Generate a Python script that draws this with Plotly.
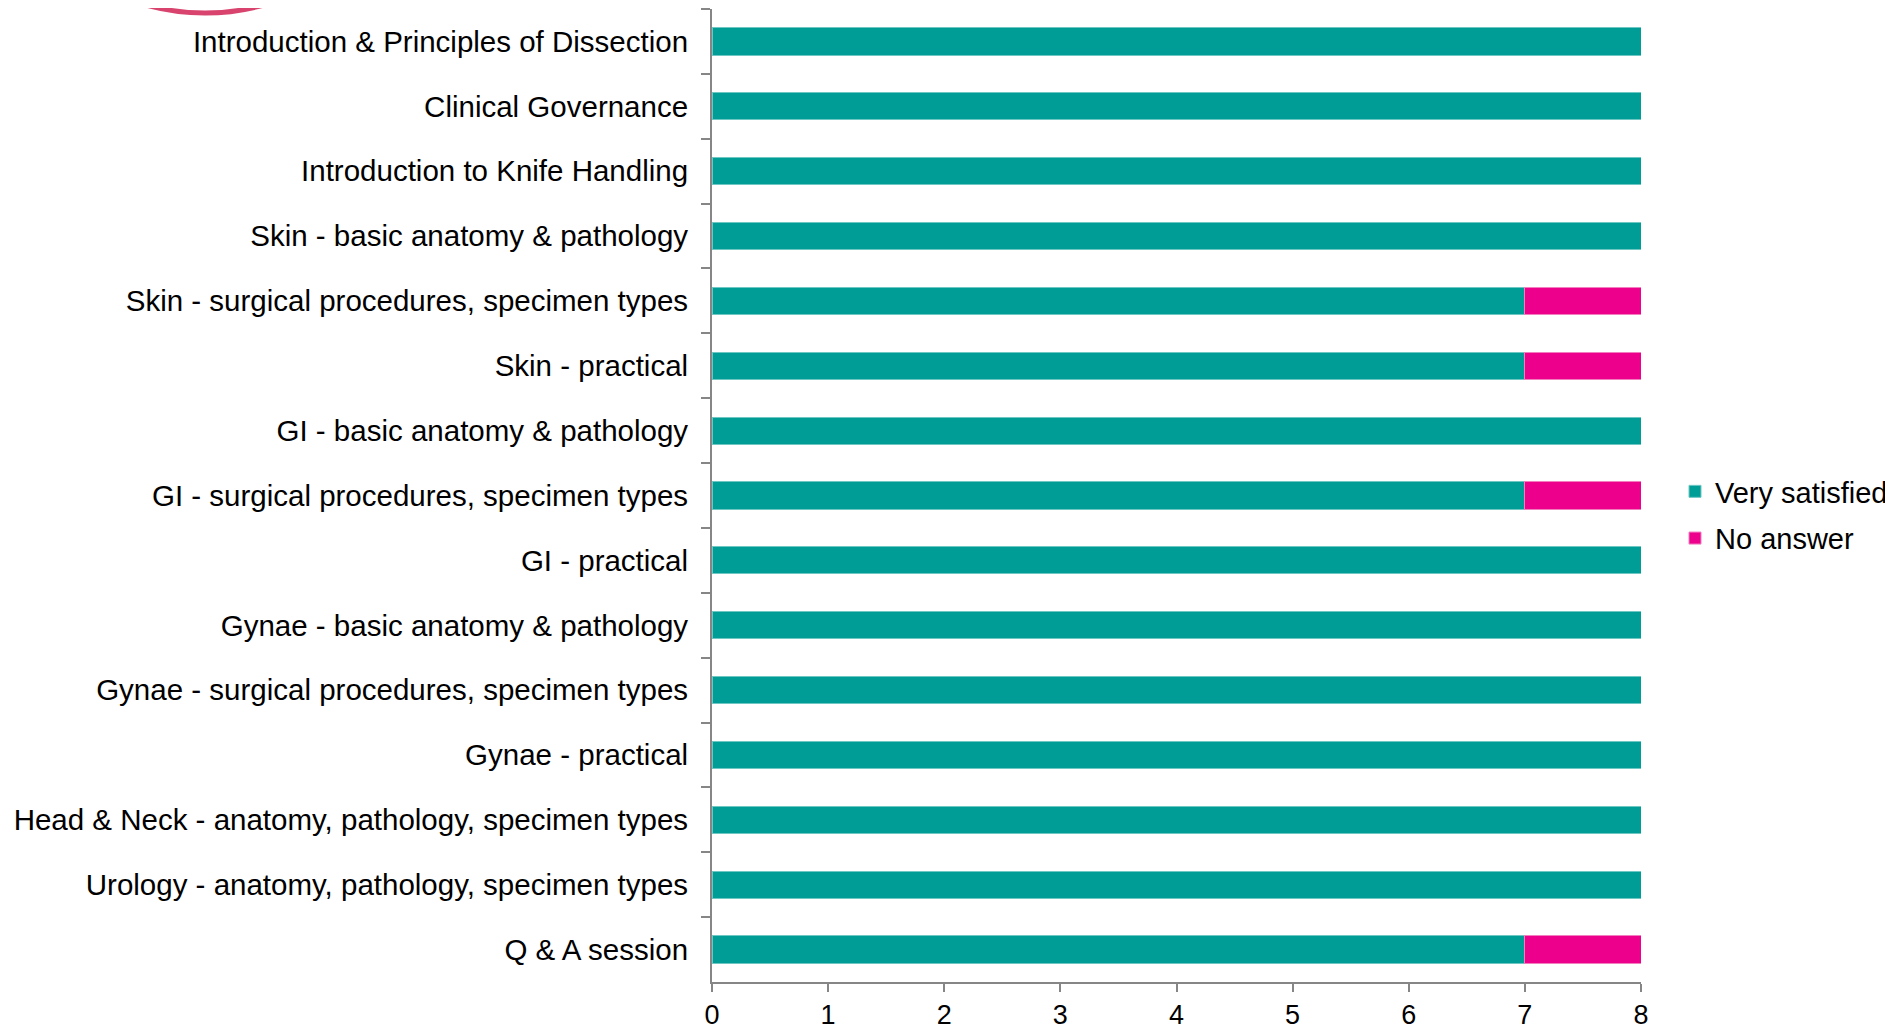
import plotly.graph_objects as go

categories = [
    "Introduction & Principles of Dissection",
    "Clinical Governance",
    "Introduction to Knife Handling",
    "Skin - basic anatomy & pathology",
    "Skin - surgical procedures, specimen types",
    "Skin - practical",
    "GI - basic anatomy & pathology",
    "GI - surgical procedures, specimen types",
    "GI - practical",
    "Gynae - basic anatomy & pathology",
    "Gynae - surgical procedures, specimen types",
    "Gynae - practical",
    "Head & Neck - anatomy, pathology, specimen types",
    "Urology - anatomy, pathology, specimen types",
    "Q & A session",
]
very_satisfied = [8, 8, 8, 8, 7, 7, 8, 7, 8, 8, 8, 8, 8, 8, 7]
no_answer = [0, 0, 0, 0, 1, 1, 0, 1, 0, 0, 0, 0, 0, 0, 1]
x_ticks = [0, 1, 2, 3, 4, 5, 6, 7, 8]

TEAL = "#009C96"
MAGENTA = "#EC008C"
AXIS = "#868686"
FONT = "Liberation Sans, Arial, sans-serif"

# figure geometry (page body adds an 8px offset)
W, H = 1885, 1024
L, R, T, B = 704, 252, 1, 50
PW = W - L - R
PH = H - T - B


def px(x):
    return (x - L) / PW


def py(y):
    return (H - B - y) / PH


fig = go.Figure()
fig.add_trace(go.Bar(
    y=categories, x=very_satisfied, orientation="h", name="Very satisfied",
    marker=dict(color=TEAL, line=dict(color="#6FC7C3", width=1)),
    legendgroup="a",
))
fig.add_trace(go.Bar(
    y=categories, x=no_answer, orientation="h", name="No answer",
    marker=dict(color=MAGENTA, line=dict(color="#F27DBF", width=1)),
    legendgroup="b",
))

fig.update_layout(
    width=W, height=H,
    barmode="stack", bargap=0.58,
    plot_bgcolor="white", paper_bgcolor="white",
    font=dict(family=FONT, size=29.5, color="black"),
    margin=dict(l=L, r=R, t=T, b=B, autoexpand=False),
    legend=dict(
        x=px(1667), xanchor="left", y=py(507), yanchor="middle",
        traceorder="grouped", tracegroupgap=6,
        font=dict(family=FONT, size=29, color="black"),
        itemwidth=30, bgcolor="rgba(0,0,0,0)",
    ),
    showlegend=True,
    shapes=[dict(
        type="circle", xref="paper", yref="paper",
        x0=px(-25), x1=px(419), y0=py(5), y1=py(-439),
        line=dict(color="#D8446E", width=5),
        layer="above",
    )],
)
fig.update_xaxes(
    range=[0, 8], tickvals=x_ticks, ticktext=[str(v) for v in x_ticks],
    showgrid=False, zeroline=False,
    showline=True, linecolor=AXIS, linewidth=2,
    ticks="outside", ticklen=8, tickcolor=AXIS, tickwidth=2,
    ticklabelstandoff=0,
    tickfont=dict(family=FONT, size=27, color="black"),
)
fig.update_yaxes(
    autorange="reversed", type="category",
    showgrid=False, zeroline=False,
    showline=True, linecolor=AXIS, linewidth=2,
    ticks="outside", tickson="boundaries", ticklen=9, tickcolor=AXIS, tickwidth=2,
    ticklabelstandoff=16,
    tickfont=dict(family=FONT, size=29.5, color="black"),
)

fig.write_html("out.html")
